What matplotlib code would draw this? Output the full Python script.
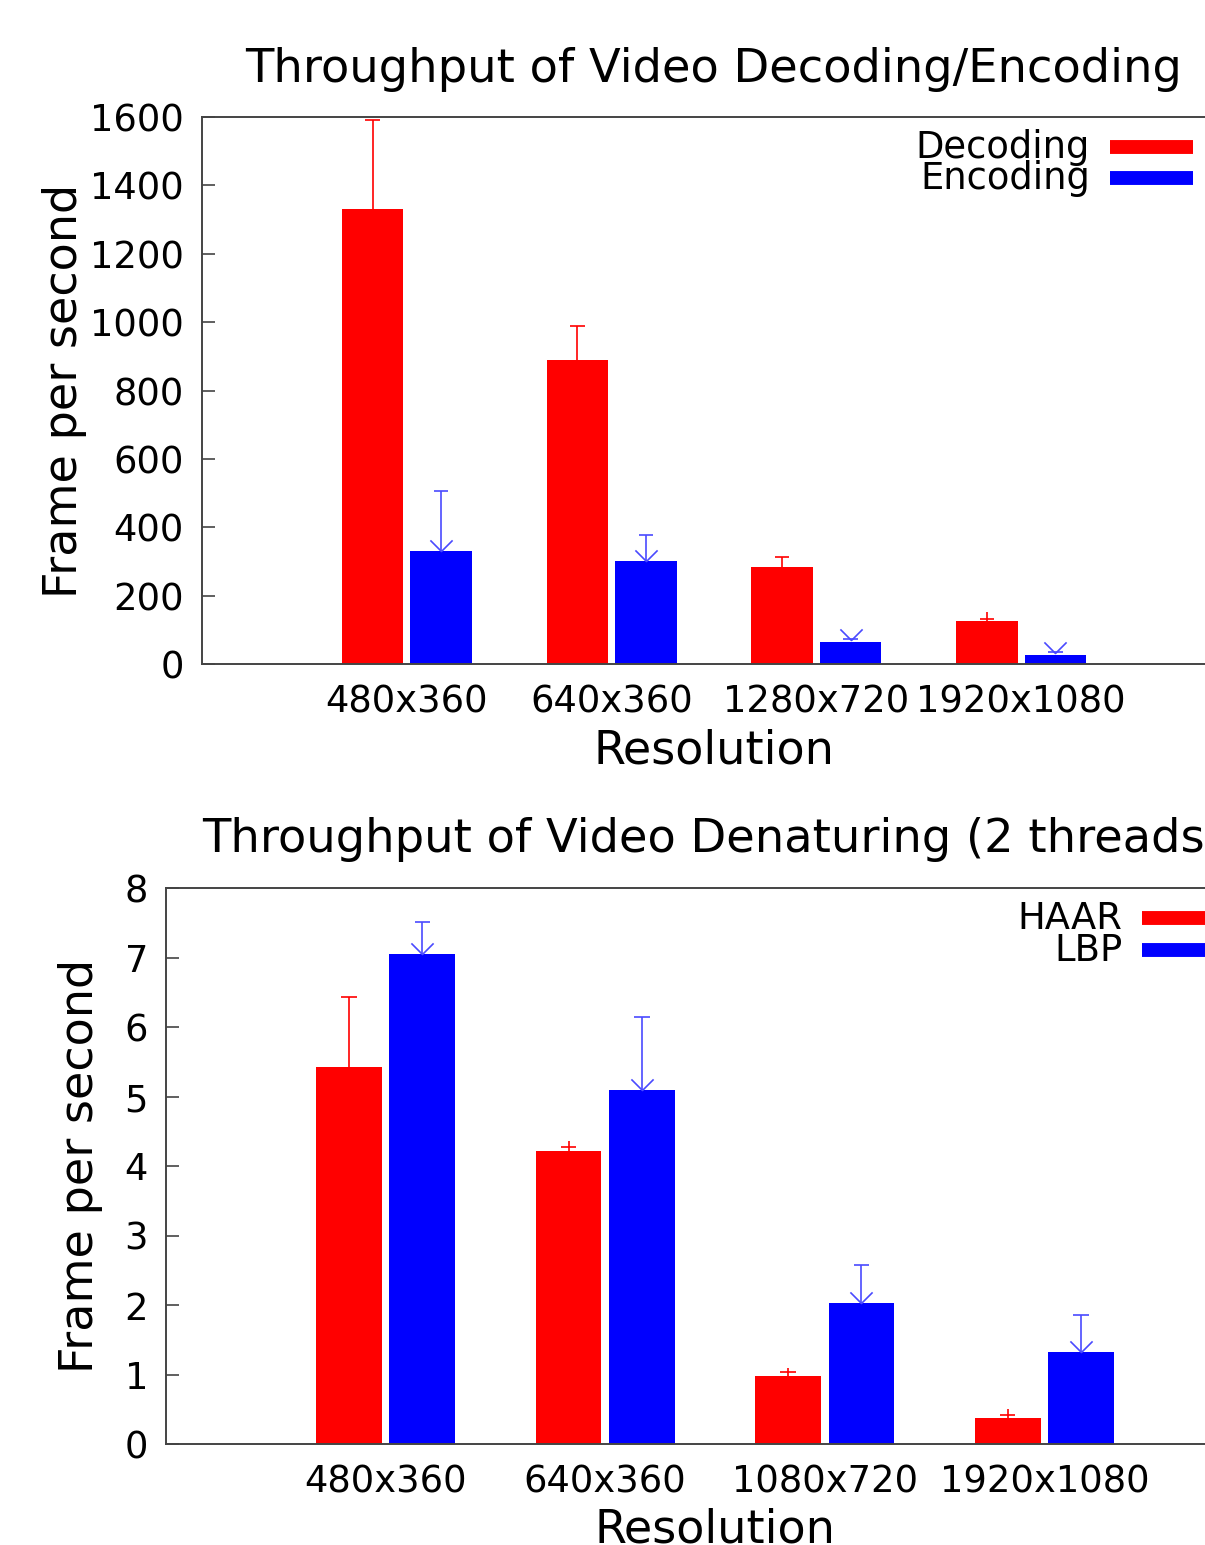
import matplotlib
matplotlib.use("Agg")
import matplotlib.pyplot as plt
import numpy as np
from matplotlib.lines import Line2D
from matplotlib.path import Path

plt.rcParams['font.family'] = ['DejaVu Sans']

# ---------------- data ----------------
res_top = ['480x360', '640x360', '1280x720', '1920x1080']
decoding = [1330, 890, 283, 125]
decoding_hi = [1592, 990, 312, 152]
decoding_cap = [1592, 990, 312, 133]
encoding = [330, 302, 64, 27]
encoding_lo = [330, 302, 70, 33]
encoding_hi = [507, 377, 73, 35]

res_bot = ['480x360', '640x360', '1080x720', '1920x1080']
haar = [5.43, 4.22, 0.98, 0.37]
haar_hi = [6.43, 4.36, 1.10, 0.50]
haar_cap = [6.43, 4.28, 1.04, 0.42]
lbp = [7.05, 5.09, 2.03, 1.32]
lbp_hi = [7.51, 6.14, 2.57, 1.85]

W, H = 1205, 1545
fig = plt.figure(figsize=(W / 100, H / 100), dpi=100)

RED = '#ff0000'
BLUE = '#0000ff'
EBLUE = '#4a4aff'
SPINE = '#444444'
vmark = Path([(-1, 1), (0, 0), (1, 1)], [Path.MOVETO, Path.LINETO, Path.LINETO])

TICK_FS = 26.6
LABEL_FS = 33.2
TITLE_FS = 33.4

bw = 0.30
off = 0.167


def style_axes(ax, ymax, ystep):
    ax.set_xlim(-1, 4)
    ax.set_ylim(0, ymax)
    ax.set_yticks(np.arange(0, ymax + ystep / 2, ystep))
    for s in ax.spines.values():
        s.set_color(SPINE)
        s.set_linewidth(1.4)
    ax.tick_params(axis='y', direction='in', length=9, width=1.2, color=SPINE,
                   labelsize=TICK_FS, pad=13)
    ax.tick_params(axis='x', length=0, labelsize=TICK_FS, pad=14)


def draw_group(ax, cats, v1, hi1, cap1, v2, lo2, hi2, capw):
    x = np.arange(len(cats))
    ax.bar(x - off, v1, width=bw, color=RED, edgecolor='none', zorder=2)
    ax.bar(x + off, v2, width=bw, color=BLUE, edgecolor='none', zorder=2)
    # red error whiskers
    ax.vlines(x - off, v1, hi1, color=RED, lw=1.2, zorder=3)
    ax.hlines(cap1, x - off - capw, x - off + capw, color=RED, lw=1.2, zorder=3)
    # blue error whiskers
    ax.vlines(x + off, lo2, hi2, color=EBLUE, lw=1.2, zorder=3)
    ax.hlines(hi2, x + off - capw, x + off + capw, color=EBLUE, lw=1.2, zorder=3)
    ax.plot(x + off, lo2, linestyle='none', marker=vmark, markersize=16,
            markerfacecolor='none', markeredgecolor=EBLUE, markeredgewidth=1.2,
            zorder=4, clip_on=False)
    ax.set_xticks(x)
    ax.set_xticklabels(cats)


def legend(ax, labels, colors, xt, xs0, xs1, ys):
    for lab, col, y in zip(labels, colors, ys):
        ax.text(xt, y, lab, transform=ax.transAxes, ha='right', va='center',
                fontsize=TICK_FS)
        ax.add_line(Line2D([xs0, xs1], [y, y], transform=ax.transAxes, color=col,
                           lw=10, solid_capstyle='butt', clip_on=False))


# ---------------- top chart ----------------
ax1 = fig.add_axes([202 / W, 1 - 664 / H, 1024 / W, 547 / H])
style_axes(ax1, 1600, 200)
draw_group(ax1, res_top, decoding, decoding_hi, decoding_cap,
           encoding, encoding_lo, encoding_hi, 0.035)
ax1.set_xlabel('Resolution', fontsize=LABEL_FS, labelpad=6)
ax1.set_ylabel('Frame per second', fontsize=LABEL_FS, labelpad=2)
fig.text(714 / W, 1 - 70 / H, 'Throughput of Video Decoding/Encoding',
         ha='center', va='center', fontsize=TITLE_FS)
legend(ax1, ['Decoding', 'Encoding'], [RED, BLUE], 0.867, 0.887, 0.968,
       [0.945, 0.888])

# ---------------- bottom chart ----------------
ax2 = fig.add_axes([166 / W, 1 - 1444 / H, 1098 / W, 556 / H])
style_axes(ax2, 8, 1)
draw_group(ax2, res_bot, haar, haar_hi, haar_cap,
           lbp, lbp, lbp_hi, 0.035)
ax2.set_xlabel('Resolution', fontsize=LABEL_FS, labelpad=5)
ax2.set_ylabel('Frame per second', fontsize=LABEL_FS, labelpad=15)
fig.text(712 / W, 1 - 840 / H, 'Throughput of Video Denaturing (2 threads)',
         ha='center', va='center', fontsize=TITLE_FS)
legend(ax2, ['HAAR', 'LBP'], [RED, BLUE], 0.871, 0.889, 0.965,
       [0.946, 0.888])

fig.savefig('out.png', dpi=100)
